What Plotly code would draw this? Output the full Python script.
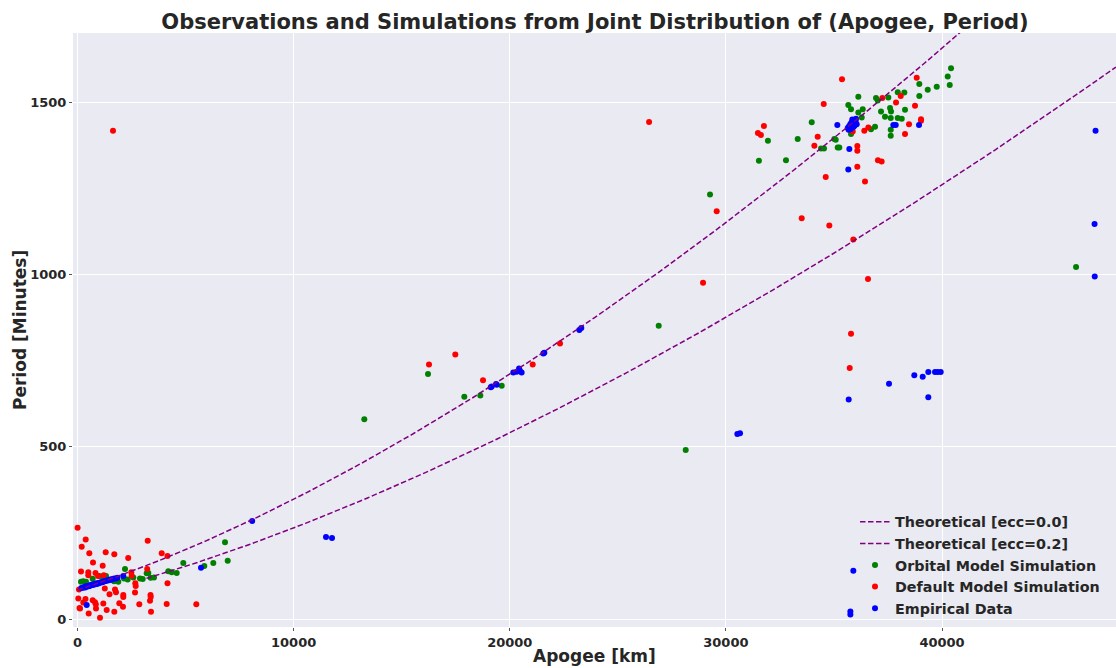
import numpy as np
import plotly.graph_objects as go

# ---------------- data ----------------
orbital_apogee = [162, 268, 393, 703, 1009, 1166, 1319, 1689, 1888, 2152, 2198, 2323, 2582, 2892, 3017,
                  3202, 3276, 3387, 3540, 4201, 4359, 4590, 4895, 5867, 6283, 6825, 6950,
                  13270, 16218, 17897, 18637, 19628, 26892, 28141, 29266,
                  31528, 31945, 32780, 33323, 33972, 34402, 34541, 35017, 35082, 35174, 35248,
                  35665, 35790, 35790, 36128, 36128, 36285, 36331, 36715, 36900, 36946, 37025,
                  37178, 37363, 37516, 37595, 37641, 37627, 37627, 37627, 37951, 37951, 38136,
                  38257, 38288, 38950, 38950, 39339, 39755, 40264, 40357, 40417, 46202]
orbital_period = [108, 110, 108, 117, 125, 123, 125, 110, 108, 118, 145, 115, 121, 118, 116,
                  133, 134, 120, 121, 139, 136, 134, 163, 154, 163, 223, 169,
                  580, 711, 645, 649, 677, 851, 491, 1232,
                  1330, 1388, 1332, 1393, 1442, 1366, 1366, 1393, 1391, 1369, 1369,
                  1492, 1480, 1408, 1516, 1470, 1456, 1480, 1422, 1429, 1512, 1505,
                  1473, 1458, 1514, 1483, 1473, 1454, 1420, 1403, 1529, 1454, 1452,
                  1528, 1478, 1553, 1518, 1536, 1545, 1575, 1550, 1599, 1022]

default_apogee = [5, 379, 194, 3248, 546, 1305, 1703, 2346, 3896, 4164, 717, 1166, 162, 500, 500,
                  833, 949, 1217, 2489, 2508, 3225, 4164, 370, 69, 37, 2674, 2693, 2119, 2119,
                  1735, 1781, 1481, 1263, 3378, 3387, 3355, 2661, 116, 268, 518, 703, 810, 847,
                  1194, 1351, 1703, 1934, 2105, 2859, 3401, 4127, 5497, 1041, 856, 93,
                  1643, 16264, 17481, 18763, 21062, 22325, 26447, 28943, 29575,
                  31482, 31621, 31760, 33508, 34093, 34248, 34527, 34619, 34785, 35373,
                  35729, 35790, 35869, 35896, 36082, 36082, 36082, 36406, 36437, 36576, 36591,
                  37034, 37206, 37240, 37872, 38090, 38288, 38473, 38751, 38829, 39028, 39028]
default_period = [265, 231, 210, 227, 191, 194, 188, 177, 191, 183, 164, 155, 138, 136, 127,
                  134, 125, 127, 136, 126, 145, 104, 58, 86, 60, 104, 96, 70, 64,
                  86, 78, 72, 89, 70, 64, 53, 77, 31, 48, 16, 55, 49, 43,
                  45, 26, 21, 46, 36, 43, 21, 44, 43, 4, 31, 32,
                  1417, 739, 768, 693, 739, 800, 1443, 976, 1184,
                  1411, 1405, 1431, 1163, 1374, 1400, 1495, 1283, 1142, 1567,
                  729, 828, 1415, 1102, 1373, 1359, 1313, 1417, 1270, 987, 1427,
                  1332, 1328, 1512, 1499, 1518, 1408, 1436, 1490, 1571, 1451, 1446]

empirical_apogee = [180, 250, 310, 350, 390, 420, 460, 500, 540, 560, 600, 630, 680, 720, 760, 790,
                    820, 850, 880, 920, 960, 1000, 1050, 1100, 1150, 1200, 1260, 1320, 1380, 1440,
                    1500, 1560, 1620, 1700, 1780, 1850, 2120, 426,
                    5714, 8083, 11498, 11776, 19120, 19166, 19398, 19366, 20165, 20320, 20470,
                    20550, 20430, 21553, 21600, 23218, 23310, 30530, 30654,
                    35682, 35897, 35760, 35760, 37548, 38718, 39107, 39366, 39366, 39677, 39800,
                    39939, 47066, 47058, 47104,
                    35156, 35637, 35700, 35760, 35820, 35880, 35950, 36000, 36053, 35780, 35900,
                    35680, 35850, 36020, 35790, 35950, 35711, 35665, 37747, 37858, 38936]
empirical_period = [90, 91, 93, 92, 95, 94, 96, 95, 97, 96, 98, 99, 100, 99, 101, 102,
                    101, 103, 102, 104, 103, 105, 106, 107, 107, 109, 110, 111, 112, 113,
                    115, 114, 116, 118, 118, 120, 125, 41,
                    149, 285, 238, 235, 673, 675, 680, 682, 716, 718, 721,
                    716, 727, 771, 773, 839, 845, 537, 539,
                    637, 140, 22, 13, 683, 708, 703, 717, 644, 717, 717,
                    717, 994, 1147, 1417,
                    1434, 1425, 1430, 1437, 1442, 1440, 1447, 1444, 1436, 1422, 1428,
                    1420, 1450, 1452, 1434, 1432, 1364, 1305, 1434, 1434, 1434]

x_ticks = [0, 10000, 20000, 30000, 40000]
y_ticks = [0, 500, 1000, 1500]

# theoretical curves: Kepler's third law, apogee radius = a (1 + e)
R_EARTH = 6378.137
MU = 398600.4418
ECCS = [0.0, 0.2]


def theoretical(ecc, h_start, h_end=48050.0, n=300):
    h = np.linspace(h_start, h_end, n)
    a = (R_EARTH + h) / (1.0 + ecc)
    return h, 2 * np.pi * np.sqrt(a ** 3 / MU) / 60.0


FONT = "DejaVu Sans"
TXT = "#262626"

# page layout in pixels (body margin removed by the post script)
PAGE_L, PAGE_R, PAGE_T, PAGE_B = 73, 1116, 33, 627
W, H = 1116, 668
ML, MR = PAGE_L, W - PAGE_R
MT, MB = PAGE_T, H - PAGE_B
plot_w = PAGE_R - PAGE_L
plot_h = PAGE_B - PAGE_T


def px(x):
    return (x - PAGE_L) / plot_w


def py(y):
    return (PAGE_B - y) / plot_h


fig = go.Figure()

fig.add_trace(go.Scatter(x=orbital_apogee, y=orbital_period, mode="markers",
                         name="Orbital Model Simulation", legendrank=3,
                         marker=dict(color="green", size=6, line=dict(width=0))))
fig.add_trace(go.Scatter(x=default_apogee, y=default_period, mode="markers",
                         name="Default Model Simulation", legendrank=4,
                         marker=dict(color="red", size=6, line=dict(width=0))))
fig.add_trace(go.Scatter(x=empirical_apogee, y=empirical_period, mode="markers",
                         name="Empirical Data", legendrank=5,
                         marker=dict(color="blue", size=6, line=dict(width=0))))

for i, e in enumerate(ECCS):
    # lower curve starts where the perigee reaches the Earth's surface
    h_start = max(0.0, R_EARTH * (1 + e) / (1 - e) - R_EARTH)
    hx, ty = theoretical(e, h_start)
    fig.add_trace(go.Scatter(x=hx, y=ty, mode="lines", name=f"Theoretical [ecc={e:.1f}]",
                             legendrank=1 + i,
                             line=dict(color="purple", width=1.5, dash="5.5px,2.5px")))

fig.update_layout(
    width=W, height=H,
    margin=dict(l=ML, r=MR, t=MT, b=MB, autoexpand=False),
    paper_bgcolor="white", plot_bgcolor="#EAEAF2",
    font=dict(family=FONT, color=TXT, size=13, weight="bold"),
    title=dict(text="Observations and Simulations from Joint Distribution of (Apogee, Period)",
               x=595 / W, xanchor="center", y=1 - 22 / H, yanchor="middle",
               font=dict(family=FONT, size=21, color=TXT, weight="bold")),
    showlegend=True,
    legend=dict(x=px(855), y=py(506), xanchor="left", yanchor="top",
                bgcolor="rgba(0,0,0,0)", borderwidth=0, traceorder="normal",
                font=dict(family=FONT, size=14.3, color=TXT, weight="bold"),
                tracegroupgap=0),
    annotations=[
        dict(text="Apogee [km]", xref="paper", yref="paper",
             x=px(594), y=py(656), xanchor="center", yanchor="middle",
             showarrow=False, font=dict(family=FONT, size=17, color=TXT, weight="bold")),
        dict(text="Period [Minutes]", xref="paper", yref="paper", textangle=-90,
             x=px(20), y=py(330), xanchor="center", yanchor="middle",
             showarrow=False, font=dict(family=FONT, size=17, color=TXT, weight="bold")),
    ],
)

fig.update_xaxes(range=[-208, 48050], tickvals=x_ticks, ticktext=[str(v) for v in x_ticks],
                 showgrid=True, gridcolor="white", gridwidth=1, zeroline=False,
                 ticks="outside", ticklen=3, tickcolor="#555555", showline=False,
                 automargin=False,
                 tickfont=dict(family=FONT, size=13, color=TXT, weight="bold"))
fig.update_yaxes(range=[-23, 1701], tickvals=y_ticks, ticktext=[str(v) for v in y_ticks],
                 showgrid=True, gridcolor="white", gridwidth=1, zeroline=False,
                 ticks="outside", ticklen=3, tickcolor="#555555", showline=False,
                 automargin=False,
                 tickfont=dict(family=FONT, size=13, color=TXT, weight="bold"))

fig.write_html("out.html", config={"displayModeBar": False},
               post_script="document.body.style.margin='0px';"
                           "document.body.style.overflow='hidden';")
